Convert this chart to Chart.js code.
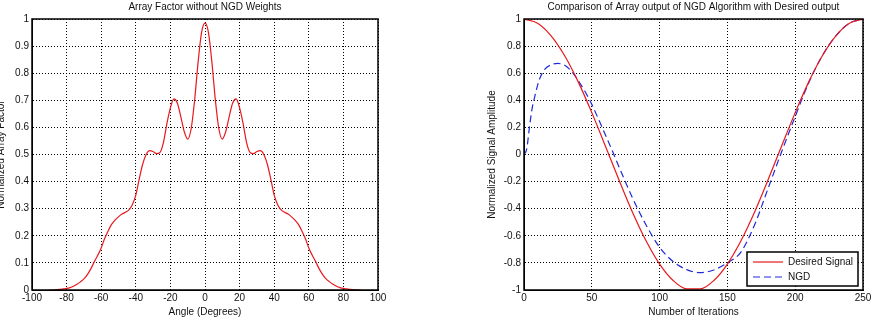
<!DOCTYPE html>
<html>
<head>
<meta charset="utf-8">
<script src="https://cdn.jsdelivr.net/npm/chart.js@4.4.0/dist/chart.umd.min.js"></script>
<style>
  html, body { margin: 0; padding: 0; background: #fff; overflow: hidden; }
  body { width: 874px; height: 322px; position: relative; }
  canvas { position: absolute; top: 0; }
  #afChart { left: -5px; }
  #ngdChart { left: 480px; }
</style>
</head>
<body>
<canvas id="afChart" width="405" height="322" style="width:405px;height:322px"></canvas>
<canvas id="ngdChart" width="394" height="322" style="width:394px;height:322px"></canvas>
<script>
// ---- left plot: array factor vs angle ----
const angleDeg = [
  -90, -88, -86, -84, -82, -80, -78, -76, -74, -72, -70, -68, -66, -64, -62, -60,
  -58, -56, -54, -52, -50, -48, -46, -44, -42, -40, -38, -36, -34, -32, -30, -28,
  -26, -24, -22, -20, -18, -16, -14, -12, -10, -8, -6, -4, -2, 0,
  2, 4, 6, 8, 10, 12, 14, 16, 18, 20, 22, 24, 26, 28, 30, 32,
  34, 36, 38, 40, 42, 44, 46, 48, 50, 52, 54, 56, 58, 60, 62, 64,
  66, 68, 70, 72, 74, 76, 78, 80, 82, 84, 86, 88, 90
];
const arrayFactor = [
  0, 0, 0.001, 0.002, 0.004, 0.006, 0.009, 0.014, 0.021, 0.03, 0.041, 0.057, 0.078, 0.104, 0.128, 0.155,
  0.19, 0.218, 0.242, 0.258, 0.27, 0.28, 0.287, 0.296, 0.315, 0.35, 0.41, 0.465, 0.5, 0.514, 0.511, 0.503,
  0.508, 0.545, 0.615, 0.672, 0.705, 0.69, 0.64, 0.585, 0.557, 0.595, 0.7, 0.84, 0.95, 0.985,
  0.95, 0.84, 0.7, 0.595, 0.557, 0.585, 0.64, 0.69, 0.705, 0.672, 0.615, 0.545, 0.508, 0.503, 0.511, 0.514,
  0.5, 0.465, 0.41, 0.35, 0.315, 0.296, 0.287, 0.28, 0.27, 0.258, 0.242, 0.218, 0.19, 0.155, 0.128, 0.104,
  0.078, 0.057, 0.041, 0.03, 0.021, 0.014, 0.009, 0.006, 0.004, 0.002, 0.001, 0, 0
];

// ---- right plot: desired signal vs NGD output ----
const desiredIter = [0, 10, 20, 30, 40, 50, 60, 70, 80, 90, 100, 110, 120, 130, 140, 150, 160, 170, 180, 190, 200, 210, 220, 230, 240, 250];
const desiredSignal = [1, 0.969, 0.876, 0.729, 0.536, 0.309, 0.063, -0.187, -0.426, -0.637, -0.809, -0.93, -0.992,
  -0.992, -0.93, -0.809, -0.637, -0.426, -0.187, 0.063, 0.309, 0.536, 0.729, 0.876, 0.969, 1];

const ngdIter = [0, 2, 4, 6, 8, 10, 12, 15, 20, 25, 30, 35, 40, 45, 50, 55, 60, 65, 70, 80, 90, 100, 110, 120, 130,
  140, 150, 160, 170, 180, 190, 200, 210, 220, 230, 240, 250];
const ngdOutput = [0, 0.04, 0.2, 0.34, 0.43, 0.51, 0.57, 0.625, 0.662, 0.672, 0.658, 0.615, 0.545, 0.465, 0.37, 0.26,
  0.145, 0.03, -0.09, -0.32, -0.52, -0.685, -0.79, -0.85, -0.872, -0.852, -0.8, -0.72, -0.52, -0.25, 0.02, 0.28,
  0.53, 0.729, 0.876, 0.969, 1];

// tick layout
const afXTicks = { min: -100, max: 100, step: 20 };
const afYTicks = { min: 0, max: 1, step: 0.1 };
const ngdXTicks = { min: 0, max: 250, step: 50 };
const ngdYTicks = { min: -1, max: 1, step: 0.2 };

const FONT = '"Liberation Sans", Arial, Helvetica, sans-serif';
Chart.defaults.font.family = FONT;
Chart.defaults.font.size = 10;
Chart.defaults.color = '#111';

const pairs = (xs, ys) => xs.map((x, i) => ({ x: x, y: ys[i] }));
const fmt = v => String(Math.round(v * 10) / 10);

// solid box around the plot area (matlab style)
const framePlugin = {
  id: 'frame',
  afterDatasetsDraw(chart) {
    const { ctx, chartArea: a } = chart;
    ctx.save();
    ctx.strokeStyle = '#000';
    ctx.lineWidth = 1.5;
    ctx.strokeRect(a.left, a.top, a.right - a.left, a.bottom - a.top);
    ctx.restore();
  }
};

// legend drawn inside the plot, bottom right corner
const boxLegend = {
  id: 'boxLegend',
  afterDraw(chart) {
    const { ctx, chartArea: a } = chart;
    const w = 111, h = 34;
    const x = a.right - 5 - w, y = a.bottom - 4 - h;
    ctx.save();
    ctx.fillStyle = '#fff';
    ctx.fillRect(x, y, w, h);
    ctx.strokeStyle = '#000';
    ctx.lineWidth = 1.5;
    ctx.strokeRect(x, y, w, h);
    ctx.font = '10px ' + FONT;
    ctx.textBaseline = 'middle';
    chart.data.datasets.forEach((ds, i) => {
      const ly = y + 10 + i * 15;
      ctx.strokeStyle = ds.borderColor;
      ctx.lineWidth = ds.borderWidth;
      ctx.setLineDash(ds.borderDash || []);
      ctx.beginPath();
      ctx.moveTo(x + 6, ly);
      ctx.lineTo(x + 36, ly);
      ctx.stroke();
      ctx.setLineDash([]);
      ctx.fillStyle = '#111';
      ctx.fillText(ds.label, x + 41, ly);
    });
    ctx.restore();
  }
};

function axis(t, titleText, isX, size, titlePad) {
  return {
    type: 'linear',
    min: t.min,
    max: t.max,
    afterFit(scale) {
      if (isX) scale.height = size; else scale.width = size;
    },
    ticks: {
      stepSize: t.step,
      padding: isX ? 2 : 3,
      autoSkip: false,
      maxRotation: 0,
      callback: fmt
    },
    grid: { color: '#000', lineWidth: 1, drawTicks: false },
    border: { display: true, color: '#000', dash: [1, 2] },
    title: {
      display: true,
      text: titleText,
      font: { size: 10 },
      padding: isX ? { top: 0, bottom: 4 } : { top: titlePad, bottom: 0 }
    }
  };
}

function titleOpts(text) {
  return {
    display: true,
    text: text,
    fullSize: false,
    color: '#111',
    font: { size: 10, weight: 'normal' },
    padding: { top: 1, bottom: 6 }
  };
}

new Chart(document.getElementById('afChart'), {
  type: 'line',
  data: {
    datasets: [{
      label: 'Array Factor',
      data: pairs(angleDeg, arrayFactor),
      borderColor: '#e8191d',
      borderWidth: 1.2,
      pointRadius: 0,
      cubicInterpolationMode: 'monotone',
      fill: false
    }]
  },
  options: {
    responsive: false,
    animation: false,
    layout: { padding: { left: 0, right: 22, top: 0, bottom: 0 } },
    plugins: {
      legend: { display: false },
      tooltip: { enabled: false },
      title: titleOpts('Array Factor without NGD Weights')
    },
    scales: {
      x: axis(afXTicks, 'Angle (Degrees)', true, 32),
      y: axis(afYTicks, 'Normalized Array Factor', false, 37, 0)
    }
  },
  plugins: [framePlugin]
});

new Chart(document.getElementById('ngdChart'), {
  type: 'line',
  data: {
    datasets: [{
      label: 'Desired Signal',
      data: pairs(desiredIter, desiredSignal),
      borderColor: '#e8191d',
      borderWidth: 1.2,
      pointRadius: 0,
      cubicInterpolationMode: 'monotone',
      fill: false
    }, {
      label: 'NGD',
      data: pairs(ngdIter, ngdOutput),
      borderColor: '#1f2bd6',
      borderWidth: 1.2,
      borderDash: [7, 4],
      pointRadius: 0,
      cubicInterpolationMode: 'monotone',
      fill: false
    }]
  },
  options: {
    responsive: false,
    animation: false,
    layout: { padding: { left: 0, right: 11, top: 0, bottom: 0 } },
    plugins: {
      legend: { display: false },
      tooltip: { enabled: false },
      title: titleOpts('Comparison of Array output of NGD Algorithm with Desired output')
    },
    scales: {
      x: axis(ngdXTicks, 'Number of Iterations', true, 32),
      y: axis(ngdYTicks, 'Normalized Signal Amplitude', false, 44, 6)
    }
  },
  plugins: [framePlugin, boxLegend]
});
</script>
</body>
</html>
